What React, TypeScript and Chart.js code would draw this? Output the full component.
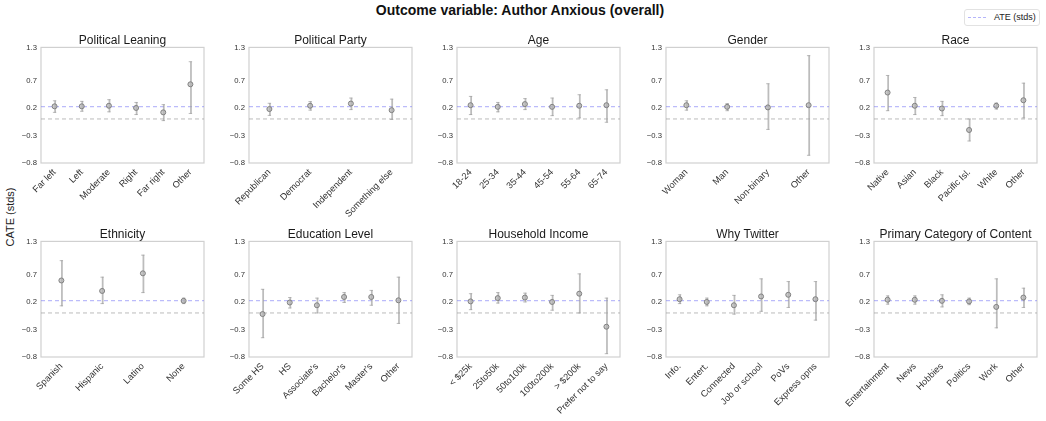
import React, { useEffect, useRef } from "react";
import { Chart, registerables } from "chart.js";

Chart.register(...registerables);

const FONT = "'Liberation Sans', Arial, Helvetica, sans-serif";

// ---------- data ----------
const yTickValues = [-0.8, -0.3, 0.2, 0.7, 1.3];
const yMin = -0.8;
const yMax = 1.3;
const ateValue = 0.225;
const zeroValue = 0;

const leaningCats = ["Far left", "Left", "Moderate", "Right", "Far right", "Other"];
const leaningEst = [0.23, 0.23, 0.24, 0.2, 0.12, 0.63];
const leaningLo = [0.12, 0.14, 0.13, 0.08, -0.03, 0.1];
const leaningHi = [0.33, 0.32, 0.35, 0.3, 0.26, 1.04];

const partyCats = ["Republican", "Democrat", "Independent", "Something else"];
const partyEst = [0.18, 0.24, 0.28, 0.16];
const partyLo = [0.065, 0.16, 0.17, -0.01];
const partyHi = [0.285, 0.315, 0.38, 0.36];

const ageCats = ["18-24", "25-34", "35-44", "45-54", "55-64", "65-74"];
const ageEst = [0.25, 0.22, 0.27, 0.22, 0.24, 0.25];
const ageLo = [0.08, 0.13, 0.17, 0.06, 0.02, -0.06];
const ageHi = [0.41, 0.3, 0.37, 0.38, 0.44, 0.53];

const genderCats = ["Woman", "Man", "Non-binary", "Other"];
const genderEst = [0.25, 0.22, 0.21, 0.25];
const genderLo = [0.16, 0.15, -0.19, -0.66];
const genderHi = [0.33, 0.28, 0.64, 1.15];

const raceCats = ["Native", "Asian", "Black", "Pacific Isl.", "White", "Other"];
const raceEst = [0.48, 0.24, 0.19, -0.2, 0.24, 0.34];
const raceLo = [0.15, 0.08, 0.06, -0.4, 0.18, 0.02];
const raceHi = [0.79, 0.39, 0.32, 0.0, 0.29, 0.65];

const ethnicityCats = ["Spanish", "Hispanic", "Latino", "None"];
const ethnicityEst = [0.59, 0.4, 0.72, 0.22];
const ethnicityLo = [0.13, 0.17, 0.37, 0.17];
const ethnicityHi = [0.95, 0.65, 1.05, 0.27];

const educationCats = ["Some HS", "HS", "Associate's", "Bachelor's", "Master's", "Other"];
const educationEst = [-0.02, 0.19, 0.14, 0.29, 0.29, 0.23];
const educationLo = [-0.45, 0.09, 0.0, 0.19, 0.14, -0.19];
const educationHi = [0.43, 0.28, 0.27, 0.37, 0.41, 0.65];

const incomeCats = ["< $25k", "25to50k", "50to100k", "100to200k", "> $200k", "Prefer not to say"];
const incomeEst = [0.21, 0.27, 0.28, 0.2, 0.35, -0.25];
const incomeLo = [0.06, 0.18, 0.2, 0.05, 0.0, -0.74];
const incomeHi = [0.35, 0.37, 0.36, 0.32, 0.71, 0.27];

const twitterCats = ["Info.", "Entert.", "Connected", "Job or school", "PoVs", "Express opns"];
const twitterEst = [0.25, 0.2, 0.14, 0.3, 0.33, 0.25];
const twitterLo = [0.17, 0.13, -0.02, 0.03, 0.1, -0.13];
const twitterHi = [0.33, 0.27, 0.32, 0.62, 0.57, 0.57];

const contentCats = ["Entertainment", "News", "Hobbies", "Politics", "Work", "Other"];
const contentEst = [0.24, 0.24, 0.22, 0.21, 0.11, 0.28];
const contentLo = [0.16, 0.16, 0.11, 0.15, -0.27, 0.1];
const contentHi = [0.31, 0.31, 0.33, 0.27, 0.62, 0.45];

// ---------- layout ----------
const COL_LEFT = [41, 249.3, 457.3, 665.7, 873.7];
const ROW_TOP = [47, 241];
const BOX_W = 164;
const BOX_H = 116;
const YW = 36;
const XH = 64;
const TOP_PAD = 2;
const TITLE_H = 14.4;
const RIGHT_PAD = 4;

const fmtTick = (v: number) => (v < 0 ? "\u2212" : "") + Math.abs(v).toFixed(1);

const boxPlugin = {
  id: "boxFrame",
  beforeDatasetsDraw(chart: any) {
    const { ctx, chartArea: a } = chart;
    ctx.save();
    ctx.strokeStyle = "#d0d0d0";
    ctx.lineWidth = 1.2;
    ctx.strokeRect(a.left, a.top, a.right - a.left, a.bottom - a.top);
    ctx.restore();
  },
};

type PanelProps = {
  title: string;
  cats: string[];
  est: number[];
  lo: number[];
  hi: number[];
  col: number;
  row: number;
};

function Panel({ title, cats, est, lo, hi, col, row }: PanelProps) {
  const ref = useRef<HTMLCanvasElement>(null);
  const W = YW + BOX_W + RIGHT_PAD;
  const H = TOP_PAD + TITLE_H + BOX_H + XH;
  useEffect(() => {
    const errColor = "rgba(160,160,160,0.7)";
    const chart = new Chart(ref.current as HTMLCanvasElement, {
      type: "bar",
      data: {
        labels: cats,
        datasets: [
          {
            type: "line",
            xAxisID: "x2",
            data: [
              { x: 0, y: ateValue },
              { x: 1, y: ateValue },
            ],
            borderColor: "rgba(120,120,245,0.5)",
            borderDash: [4, 3],
            borderWidth: 1.1,
            pointRadius: 0,
            order: 5,
          } as any,
          {
            type: "line",
            xAxisID: "x2",
            data: [
              { x: 0, y: zeroValue },
              { x: 1, y: zeroValue },
            ],
            borderColor: "rgba(150,150,150,0.65)",
            borderDash: [4, 3],
            borderWidth: 1,
            pointRadius: 0,
            order: 6,
          } as any,
          {
            type: "bar",
            data: cats.map((_, i) => [lo[i], hi[i]]),
            backgroundColor: errColor,
            barThickness: 1.1,
            order: 3,
          } as any,
          {
            type: "line",
            data: lo,
            showLine: false,
            pointStyle: "line",
            pointRadius: 1.7,
            borderColor: errColor,
            borderWidth: 1,
            order: 2,
          } as any,
          {
            type: "line",
            data: hi,
            showLine: false,
            pointStyle: "line",
            pointRadius: 1.7,
            borderColor: errColor,
            borderWidth: 1,
            order: 2,
          } as any,
          {
            type: "line",
            data: est,
            showLine: false,
            pointStyle: "circle",
            pointRadius: 2.5,
            backgroundColor: "rgba(180,180,180,0.7)",
            borderColor: "#808080",
            borderWidth: 1,
            order: 0,
          } as any,
        ],
      },
      options: {
        responsive: false,
        animation: false,
        layout: { padding: { top: TOP_PAD, left: 0, right: RIGHT_PAD, bottom: 0 } },
        plugins: {
          legend: { display: false },
          tooltip: { enabled: false },
          title: {
            display: true,
            fullSize: false,
            text: title,
            color: "#1a1a1a",
            font: { family: FONT, size: 12, weight: "normal", lineHeight: 1.2 },
            padding: { top: 0, bottom: 0 },
          },
        },
        scales: {
          x: {
            type: "category",
            offset: true,
            grid: { display: false, drawTicks: false },
            border: { display: false },
            ticks: {
              autoSkip: false,
              minRotation: 45,
              maxRotation: 45,
              padding: 4,
              color: "#333",
              font: { family: FONT, size: 9.2 },
            },
            afterFit: (s: any) => {
              s.height = XH;
              s.paddingLeft = 0;
              s.paddingRight = 0;
            },
          },
          x2: {
            type: "linear",
            axis: "x",
            display: false,
            offset: false,
            min: 0,
            max: 1,
            grid: { offset: false },
          } as any,
          y: {
            min: yMin,
            max: yMax,
            grid: { display: false, drawTicks: false },
            border: { display: false },
            afterBuildTicks: (s: any) => {
              s.ticks = yTickValues.map((v) => ({ value: v }));
            },
            ticks: {
              padding: 4,
              color: "#333",
              font: { family: FONT, size: 7.7 },
              callback: (v: any) => fmtTick(Number(v)),
            },
            afterFit: (s: any) => {
              s.width = YW;
              s.paddingTop = 0;
              s.paddingBottom = 0;
            },
          },
        },
      } as any,
      plugins: [boxPlugin],
    });
    return () => chart.destroy();
  }, []);
  return (
    <canvas
      ref={ref}
      width={W}
      height={H}
      style={{
        position: "absolute",
        left: COL_LEFT[col] - YW,
        top: ROW_TOP[row] - TOP_PAD - TITLE_H,
        width: W,
        height: H,
      }}
    />
  );
}

export default function App() {
  return (
    <div
      style={{
        position: "absolute",
        left: 0,
        top: 0,
        width: 1046,
        height: 421,
        background: "#fff",
        overflow: "hidden",
        fontFamily: FONT,
      }}
    >
      <div
        style={{
          position: "absolute",
          left: 0,
          width: 1040,
          top: 2,
          textAlign: "center",
          fontWeight: "bold",
          fontSize: 14,
          color: "#111",
          lineHeight: "16px",
        }}
      >
        Outcome variable: Author Anxious (overall)
      </div>
      <div
        style={{
          position: "absolute",
          left: 964,
          top: 9,
          width: 76,
          height: 17,
          border: "1px solid #e2e2e2",
          borderRadius: 3,
          boxSizing: "border-box",
        }}
      >
        <div
          style={{
            position: "absolute",
            left: 3,
            top: 7,
            width: 18,
            borderTop: "1px dashed rgba(120,120,245,0.55)",
          }}
        />
        <div
          style={{
            position: "absolute",
            left: 29,
            top: 2,
            fontSize: 9,
            lineHeight: "11px",
            color: "#222",
            whiteSpace: "nowrap",
          }}
        >
          ATE (stds)
        </div>
      </div>
      <div
        style={{
          position: "absolute",
          left: 10 - 40,
          top: 217 - 7,
          width: 80,
          height: 14,
          lineHeight: "14px",
          fontSize: 11,
          color: "#222",
          textAlign: "center",
          transform: "rotate(-90deg)",
          whiteSpace: "nowrap",
        }}
      >
        CATE (stds)
      </div>
      <Panel title="Political Leaning" cats={leaningCats} est={leaningEst} lo={leaningLo} hi={leaningHi} col={0} row={0} />
      <Panel title="Political Party" cats={partyCats} est={partyEst} lo={partyLo} hi={partyHi} col={1} row={0} />
      <Panel title="Age" cats={ageCats} est={ageEst} lo={ageLo} hi={ageHi} col={2} row={0} />
      <Panel title="Gender" cats={genderCats} est={genderEst} lo={genderLo} hi={genderHi} col={3} row={0} />
      <Panel title="Race" cats={raceCats} est={raceEst} lo={raceLo} hi={raceHi} col={4} row={0} />
      <Panel title="Ethnicity" cats={ethnicityCats} est={ethnicityEst} lo={ethnicityLo} hi={ethnicityHi} col={0} row={1} />
      <Panel title="Education Level" cats={educationCats} est={educationEst} lo={educationLo} hi={educationHi} col={1} row={1} />
      <Panel title="Household Income" cats={incomeCats} est={incomeEst} lo={incomeLo} hi={incomeHi} col={2} row={1} />
      <Panel title="Why Twitter" cats={twitterCats} est={twitterEst} lo={twitterLo} hi={twitterHi} col={3} row={1} />
      <Panel title="Primary Category of Content" cats={contentCats} est={contentEst} lo={contentLo} hi={contentHi} col={4} row={1} />
    </div>
  );
}
